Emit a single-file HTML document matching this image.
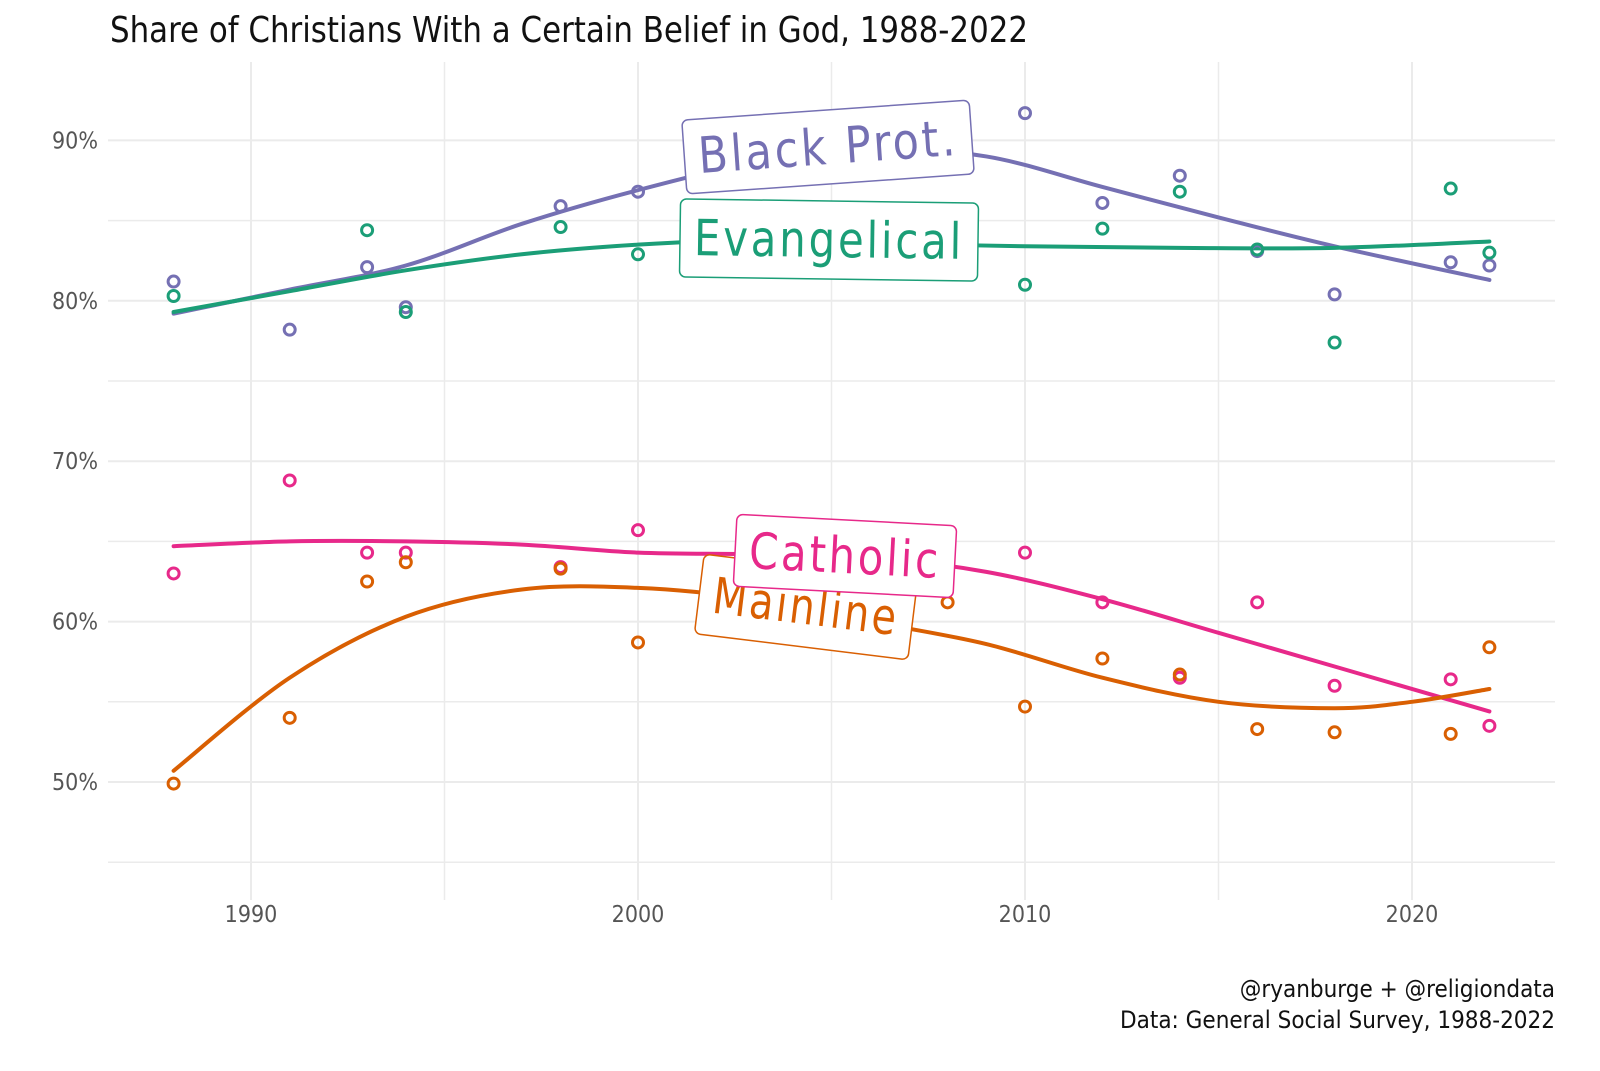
<!DOCTYPE html>
<html><head><meta charset="utf-8"><style>
body{margin:0;background:#fff;}
svg text{font-family:"Liberation Sans Narrow","DejaVu Sans Condensed","Liberation Sans",sans-serif;}
</style></head><body>
<svg id="chart" width="1600" height="1066" viewBox="0 0 1600 1066" xmlns="http://www.w3.org/2000/svg">
<text x="110" y="42" font-size="36" fill="#111" textLength="918" lengthAdjust="spacingAndGlyphs">Share of Christians With a Certain Belief in God, 1988-2022</text>
<g id="grid"></g><g id="lines"></g><g id="points"></g><g id="labels"></g>
<text x="1555" y="997" font-size="24" fill="#111" text-anchor="end">@ryanburge + @religiondata</text>
<text x="1555" y="1028" font-size="24" fill="#111" text-anchor="end">Data: General Social Survey, 1988-2022</text>
</svg>
<script>
const xTicks=[1990,2000,2010,2020];
const yTicks=[50,60,70,80,90];
const colors={black:"#7570b3",evan:"#1b9e77",cath:"#e7298a",main:"#d95f02"};
const blackYears=[1988,1991,1993,1994,1998,2000,2010,2012,2014,2016,2018,2021,2022];
const blackVals=[81.2,78.2,82.1,79.6,85.9,86.8,91.7,86.1,87.8,83.1,80.4,82.4,82.2];
const evanYears=[1988,1993,1994,1998,2000,2010,2012,2014,2016,2018,2021,2022];
const evanVals=[80.3,84.4,79.3,84.6,82.9,81.0,84.5,86.8,83.2,77.4,87.0,83.0];
const cathYears=[1988,1991,1993,1994,1998,2000,2008,2010,2012,2014,2016,2018,2021,2022];
const cathVals=[63.0,68.8,64.3,64.3,63.4,65.7,63.4,64.3,61.2,56.5,61.2,56.0,56.4,53.5];
const mainYears=[1988,1991,1993,1994,1998,2000,2008,2010,2012,2014,2016,2018,2021,2022];
const mainVals=[49.9,54.0,62.5,63.7,63.3,58.7,61.2,54.7,57.7,56.7,53.3,53.1,53.0,58.4];
const blackFitYears=[1988,1991,1994,1997,2000,2003,2006,2009,2012,2015,2018,2022];
const blackFit=[79.2,80.7,82.2,84.8,86.9,88.6,89.5,89.0,87.1,85.2,83.4,81.3];
const evanFitYears=[1988,1991,1994,1997,2000,2003,2006,2010,2014,2018,2022];
const evanFit=[79.3,80.6,81.9,82.9,83.5,83.8,83.6,83.4,83.3,83.3,83.7];
const cathFitYears=[1988,1991,1994,1997,2000,2003,2006,2009,2012,2015,2018,2022];
const cathFit=[64.7,65.0,65.0,64.8,64.3,64.2,64.0,63.1,61.4,59.3,57.2,54.4];
const mainFitYears=[1988,1991,1994,1997,2000,2003,2006,2009,2012,2015,2018,2020,2022];
const mainFit=[50.7,56.5,60.3,62.0,62.1,61.4,60.0,58.6,56.5,55.0,54.6,55.0,55.8];

const X=y=>251+(y-1990)*38.7;
const Y=v=>782-(v-50)*16.04;
const NS="http://www.w3.org/2000/svg";
function mk(t,p,a){const e=document.createElementNS(NS,t);for(const k in a)e.setAttribute(k,a[k]);p.appendChild(e);return e;}
const grid=document.getElementById('grid');
for(let yr=1990;yr<=2020;yr+=5){const l=mk('line',grid,{x1:X(yr),x2:X(yr),y1:62,y2:900,stroke:'#ebebeb','stroke-width':yr%10==0?2:1.5});

}
for(let v=45;v<=90;v+=5){const l=mk('line',grid,{x1:108,x2:1555,y1:Y(v),y2:Y(v),stroke:'#ebebeb','stroke-width':v%10==0?2:1.5});

}
xTicks.forEach(t=>{const e=mk('text',grid,{x:X(t),y:922,'font-size':23,fill:'#555','text-anchor':'middle'});e.textContent=t;

});
yTicks.forEach(t=>{const e=mk('text',grid,{x:98,y:Y(t)+8,'font-size':23,fill:'#555','text-anchor':'end'});e.textContent=t+'%';

});
function spline(xs,vs){const p=xs.map((x,i)=>[X(x),Y(vs[i])]);let d=`M${p[0][0]},${p[0][1]}`;
for(let i=0;i<p.length-1;i++){const p0=p[i-1]||p[i],p1=p[i],p2=p[i+1],p3=p[i+2]||p2;
d+=` C${p1[0]+(p2[0]-p0[0])/6},${p1[1]+(p2[1]-p0[1])/6} ${p2[0]-(p3[0]-p1[0])/6},${p2[1]-(p3[1]-p1[1])/6} ${p2[0]},${p2[1]}`;}return d;}
const lines=document.getElementById('lines'),pts=document.getElementById('points');
[['black',blackFitYears,blackFit,blackYears,blackVals],['evan',evanFitYears,evanFit,evanYears,evanVals],['cath',cathFitYears,cathFit,cathYears,cathVals],['main',mainFitYears,mainFit,mainYears,mainVals]].forEach(([k,fx,fv,px,pv])=>{
const l=mk('path',lines,{d:spline(fx,fv),fill:'none',stroke:colors[k],'stroke-width':4,'stroke-linecap':'round'});


px.forEach((yr,i)=>{const c=mk('circle',pts,{cx:X(yr),cy:Y(pv[i]),r:5.5,fill:'none',stroke:colors[k],'stroke-width':3});

});});
const labs=document.getElementById('labels');
[['black','Black Prot.',828,147,-4,288,74],['evan','Evangelical',829,240,0.8,298,78],['main','Mainline',806,607,7,215,80],['cath','Catholic',845,556,3,220,72]].forEach(([k,t,cx,cy,r,w,h])=>{
const g=mk('g',labs,{transform:`translate(${cx},${cy}) rotate(${r})`});


mk('rect',g,{x:-w/2,y:-h/2,width:w,height:h,rx:6,fill:'#fff',stroke:colors[k],'stroke-width':1.5});
const e=mk('text',g,{x:0,y:17,'font-size':50,fill:colors[k],'text-anchor':'middle','letter-spacing':3,textLength:w-28,lengthAdjust:'spacingAndGlyphs'});e.textContent=t;});
</script>
</body></html>
